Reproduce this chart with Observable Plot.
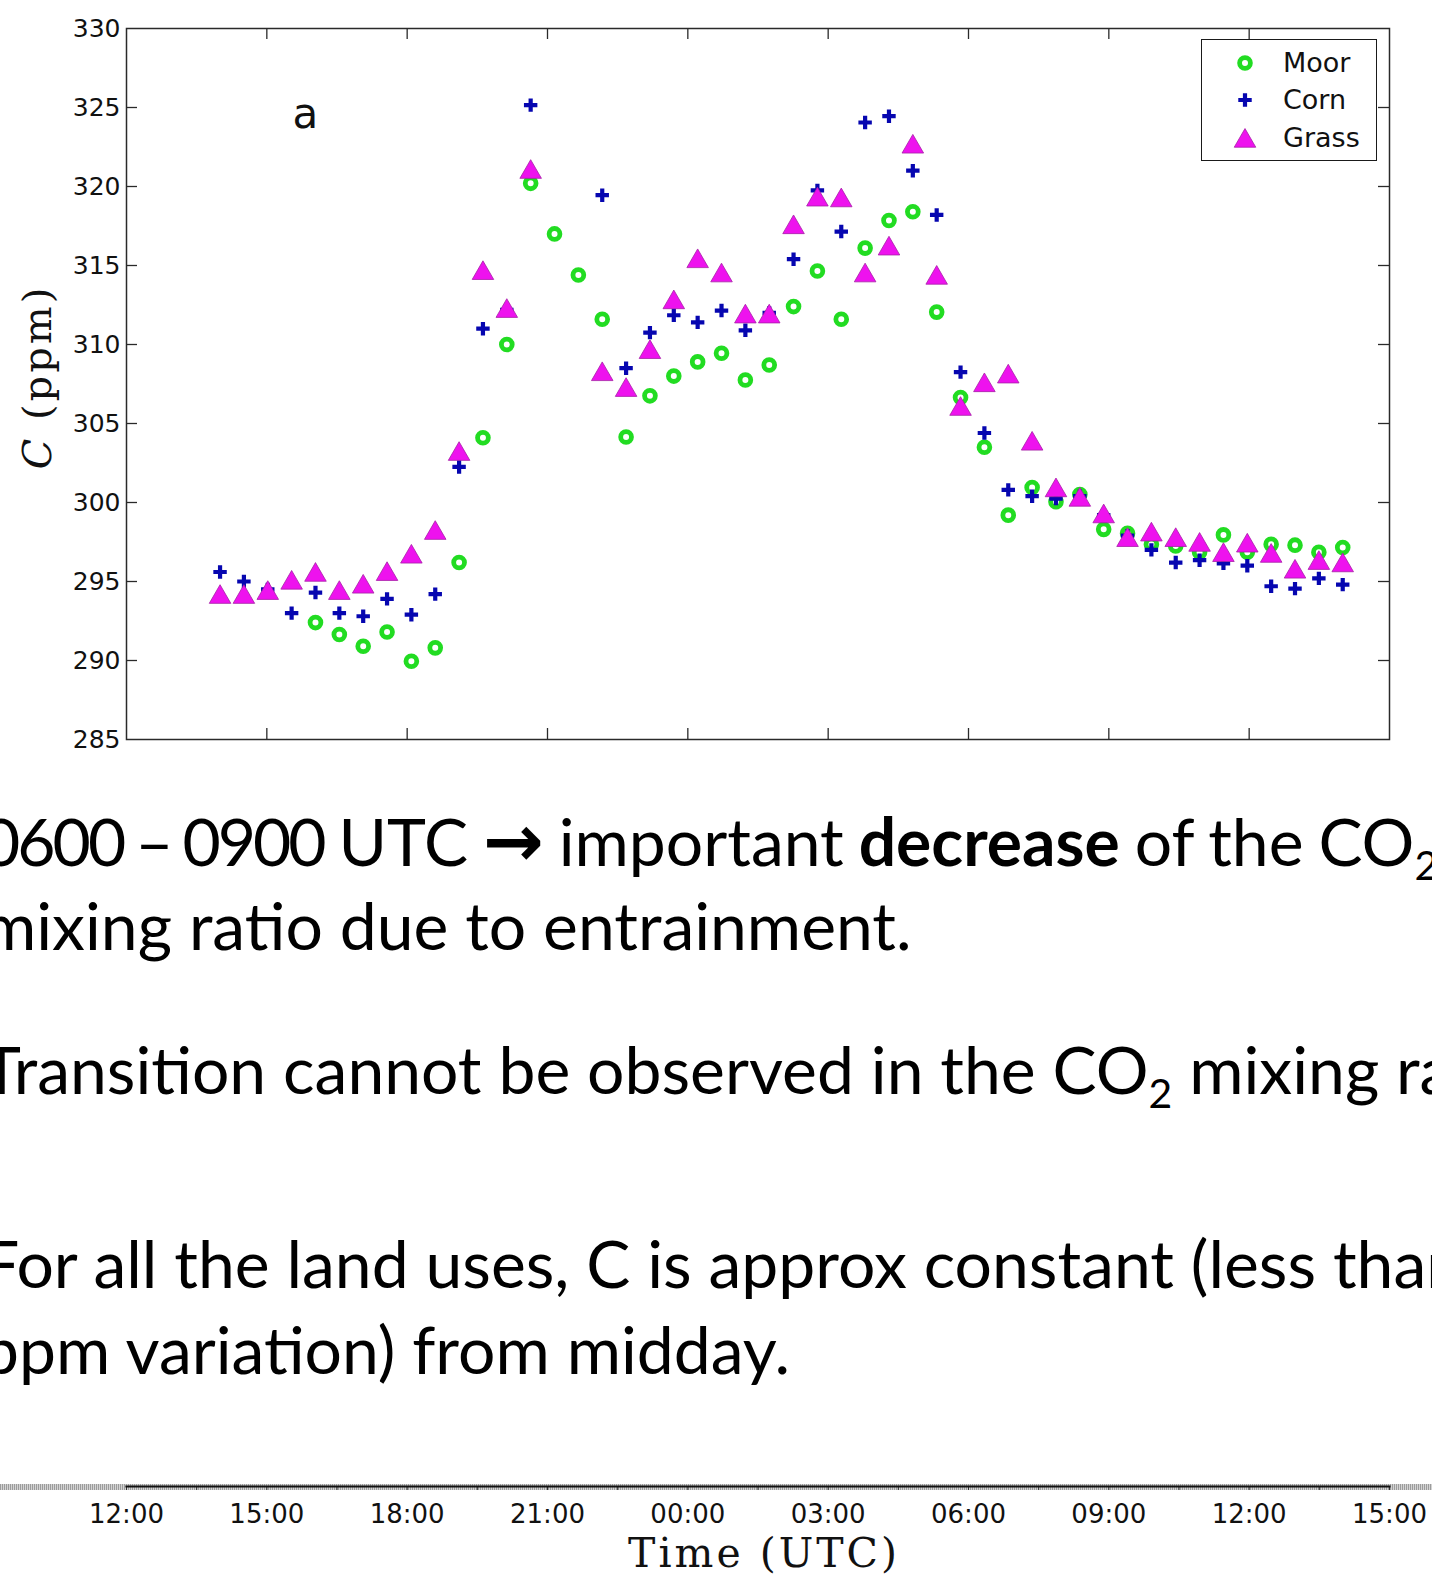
<!DOCTYPE html>
<html>
<head>
<meta charset="utf-8">
<script src="https://cdn.jsdelivr.net/npm/d3@7"></script>
<script src="https://cdn.jsdelivr.net/npm/@observablehq/plot@0.6"></script>
<style>
  html, body { margin: 0; padding: 0; background: #fff; }
  #page { position: relative; width: 1432px; height: 1576px; overflow: hidden; background: #fff; }
  #chart, #axis { position: absolute; left: 0; }
  #chart { top: 0; }
  #axis { top: 1470px; z-index: 2; }
  #band { position: absolute; left: 0; top: 1484px; width: 1432px; height: 6px; z-index: 1;
          background: repeating-linear-gradient(90deg, #9c9c9c 0 1px, #d4d4d4 1px 2px); }
  .ylab { position: absolute; left: 37px; top: 377px; transform: translate(-50%, -50%) rotate(-90deg);
          font-family: "DejaVu Serif"; font-size: 40px; letter-spacing: 3px; white-space: nowrap; color: #111; line-height: 1; }
  .xlab { position: absolute; left: 764px; top: 1533px; transform: translateX(-50%);
          font-family: "DejaVu Serif"; font-size: 41px; letter-spacing: 3px; white-space: nowrap; color: #111; line-height: 1; z-index: 3; }
  .slide { position: absolute; left: -18px; font-family: Lato, "Open Sans", sans-serif; font-size: 66px; line-height: 1.2;
           white-space: nowrap; color: #000; }
  .slide .sub { font-size: 0.62em; position: relative; top: 0.33em; }
  .slide .arrow { font-family: "DejaVu Sans"; font-weight: bold; font-size: 1.1em; line-height: 0; }
  .slide .num { letter-spacing: -0.045em; }
  #legend { position: absolute; left: 1201px; top: 39px; width: 176px; height: 122px; box-sizing: border-box;
            border: 1.5px solid #1a1a1a; background: #fff; }
  #legend .lt { position: absolute; left: 81px; font-family: "DejaVu Sans"; font-size: 27px; color: #111; line-height: 1; }
</style>
</head>
<body>
<div id="page">
  <div id="chart"></div>
  <div class="ylab"><i>C</i> (ppm)</div>
  <div id="legend"></div>

  <div class="slide" style="top:801px; word-spacing:-2px"><span class="num">0600 – 0900</span> UTC <span class="arrow">→</span> important <b>decrease</b> of the CO<span class="sub">2</span></div>
  <div class="slide" style="top:885px">mixing ratio due to entrainment.</div>
  <div class="slide" style="top:1029px">Transition cannot be observed in the CO<span class="sub">2</span> mixing ratio.</div>
  <div class="slide" style="top:1223px">For all the land uses, C is approx constant (less than</div>
  <div class="slide" style="top:1309px">ppm variation) from midday.</div>

  <div id="band"></div>
  <div id="axis"></div>
  <div class="xlab">Time (UTC)</div>
</div>
<script>
// ---- data (hours after 12:00 UTC of the first day) ----
const hours = [2.00, 2.51, 3.02, 3.53, 4.04, 4.55, 5.06, 5.57, 6.09, 6.60, 7.11, 7.62,
               8.13, 8.64, 9.15, 9.66, 10.17, 10.68, 11.19, 11.70, 12.21, 12.72, 13.23, 13.74,
               14.26, 14.77, 15.28, 15.79, 16.30, 16.81, 17.32, 17.83, 18.34, 18.85, 19.36, 19.87,
               20.38, 20.89, 21.40, 21.91, 22.43, 22.94, 23.45, 23.96, 24.47, 24.98, 25.49, 26.00];
const moor  = [null, null, null, null, 292.4, 291.65, 290.9, 291.8, 289.95, 290.8, 296.2, 304.1,
               310.0, 320.2, 317.0, 314.4, 311.6, 304.15, 306.75, 308.0, 308.9, 309.45, 307.75, 308.7,
               312.4, 314.65, 311.6, 316.1, 317.85, 318.4, 312.05, 306.65, 303.5, 299.2, 300.95, 300.05,
               300.5, 298.3, 298.05, 297.35, 297.25, 296.85, 297.95, 296.85, 297.35, 297.3, 296.85, 297.15];
const corn  = [295.6, 295.0, 294.5, 293.0, 294.3, 293.0, 292.8, 293.9, 292.9, 294.2, 302.25, 311.0,
               312.2, 325.15, null, null, 319.45, 308.5, 310.75, 311.85, 311.4, 312.15, 310.9, 312.0,
               315.4, 319.75, 317.15, 324.05, 324.45, 321.0, 318.2, 308.25, 304.4, 300.8, 300.4, 300.25,
               300.4, 299.2, 297.9, 297.0, 296.2, 296.35, 296.15, 296.0, 294.7, 294.55, 295.2, 294.8];
const grass = [294.2, 294.2, 294.45, 295.1, 295.6, 294.45, 294.85, 295.65, 296.75, 298.25, 303.25, 314.7,
               312.3, 321.1, null, null, 308.3, 307.3, 309.7, 312.85, 315.45, 314.55, 311.95, 311.95,
               317.6, 319.35, 319.3, 314.55, 316.25, 322.7, 314.4, 306.1, 307.6, 308.15, 303.9, 300.95,
               300.35, 299.3, 297.8, 298.15, 297.8, 297.5, 296.85, 297.45, 296.8, 295.8, 296.35, 296.2];

const seriesNames = ["Moor", "Corn", "Grass"];
const yTicks = [285, 290, 295, 300, 305, 310, 315, 320, 325, 330];
const xTicks = [0, 3, 6, 9, 12, 15, 18, 21, 24, 27];
const xTickLabels = ["12:00", "15:00", "18:00", "21:00", "00:00", "03:00", "06:00", "09:00", "12:00", "15:00"];
const xMinorTicks = [1.5, 4.5, 7.5, 10.5, 13.5, 16.5, 19.5, 22.5, 25.5];

// ---- styles ----
const GREEN = "#22dc22", BLUE = "#0606b0", MAGENTA = "#ee12ee", MAG_EDGE = "#a61fa6";
const CIRCLE = {r: 5.4, sw: 4.8}, PLUS = {r: 4.4, sw: 4.2}, TRI = {r: 8, sw: 0.8};

const rowsOf = (vals) => hours.map((t, i) => ({t, v: vals[i]}));
const moorRows = rowsOf(moor), cornRows = rowsOf(corn), grassRows = rowsOf(grass);

const W = 1432, H = 760, ML = 126, MR = 43, MT = 28, MB = 21;
const FW = W - ML - MR, FH = H - MT - MB;
const TL = 11;
const innerX = xTicks.slice(1, -1), innerY = yTicks.slice(1, -1);

const chart = Plot.plot({
  width: W, height: H,
  marginLeft: ML, marginRight: MR, marginTop: MT, marginBottom: MB,
  style: {fontFamily: "DejaVu Sans", background: "#fff", color: "#111"},
  x: {domain: [0, 27], axis: null},
  y: {domain: [285, 330], axis: null},
  marks: [
    Plot.axisY(yTicks, {anchor: "left", label: null, tickSize: 0, tickPadding: 6, fontSize: 25, tickFormat: d => String(d)}),
    Plot.tickY(innerY, {y: d => d, insetRight: FW - TL, stroke: "#2a2a2a", strokeWidth: 1.3}),
    Plot.tickY(innerY, {y: d => d, insetLeft: FW - TL, stroke: "#2a2a2a", strokeWidth: 1.3}),
    Plot.tickX(innerX, {x: d => d, insetBottom: FH - TL, stroke: "#2a2a2a", strokeWidth: 1.3}),
    Plot.tickX(innerX, {x: d => d, insetTop: FH - TL, stroke: "#2a2a2a", strokeWidth: 1.3}),
    Plot.frame({stroke: "#2a2a2a", strokeWidth: 1.5}),
    Plot.dot(moorRows, {x: "t", y: "v", symbol: "circle", r: CIRCLE.r, stroke: GREEN, strokeWidth: CIRCLE.sw, fill: "none"}),
    Plot.dot(cornRows, {x: "t", y: "v", symbol: "plus", r: PLUS.r, stroke: BLUE, strokeWidth: PLUS.sw}),
    Plot.dot(grassRows, {x: "t", y: "v", symbol: "triangle", r: TRI.r, fill: MAGENTA, stroke: MAG_EDGE, strokeWidth: TRI.sw, dy: 3}),
    Plot.text(["a"], {frameAnchor: "top-left", dx: 166, dy: 86, textAnchor: "start", lineAnchor: "middle",
                      fontSize: 42, fontFamily: "DejaVu Sans", fill: "#111"})
  ]
});
document.getElementById("chart").appendChild(chart);

// ---- detached time axis at the bottom ----
const axis = Plot.plot({
  width: W, height: 106,
  marginLeft: ML, marginRight: MR, marginTop: 16, marginBottom: 80,
  style: {fontFamily: "DejaVu Sans", background: "transparent", color: "#111"},
  x: {domain: [0, 27], axis: null},
  marks: [
    Plot.tickX(xTicks.concat(xMinorTicks), {x: d => d, insetBottom: 6, stroke: "#333", strokeWidth: 1}),
    Plot.frame({anchor: "top", stroke: "#111", strokeWidth: 2.2}),
    Plot.axisX(xTicks, {anchor: "bottom", label: null, tickSize: 0, tickPadding: 8, fontSize: 26,
                        tickFormat: d => xTickLabels[xTicks.indexOf(d)]})
  ]
});
document.getElementById("axis").appendChild(axis);

// ---- legend ----
const legend = d3.select("#legend");
const lsvg = legend.append("svg").attr("width", 176).attr("height", 122)
  .style("position", "absolute").style("left", "-1.5px").style("top", "-1.5px");
const rowY = [24, 61, 99];
const symX = 44;
lsvg.append("circle").attr("cx", symX).attr("cy", rowY[0]).attr("r", CIRCLE.r)
  .attr("fill", "none").attr("stroke", GREEN).attr("stroke-width", CIRCLE.sw);
lsvg.append("path").attr("transform", `translate(${symX},${rowY[1]})`)
  .attr("d", d3.symbol(d3.symbolPlus, Math.PI * PLUS.r * PLUS.r)())
  .attr("fill", "none").attr("stroke", BLUE).attr("stroke-width", PLUS.sw);
lsvg.append("path").attr("transform", `translate(${symX},${rowY[2] + 3})`)
  .attr("d", d3.symbol(d3.symbolTriangle, Math.PI * TRI.r * TRI.r)())
  .attr("fill", MAGENTA).attr("stroke", MAG_EDGE).attr("stroke-width", TRI.sw);
seriesNames.forEach((name, i) => {
  legend.append("div").attr("class", "lt").style("top", (rowY[i] - 15) + "px").text(name);
});
</script>
</body>
</html>
